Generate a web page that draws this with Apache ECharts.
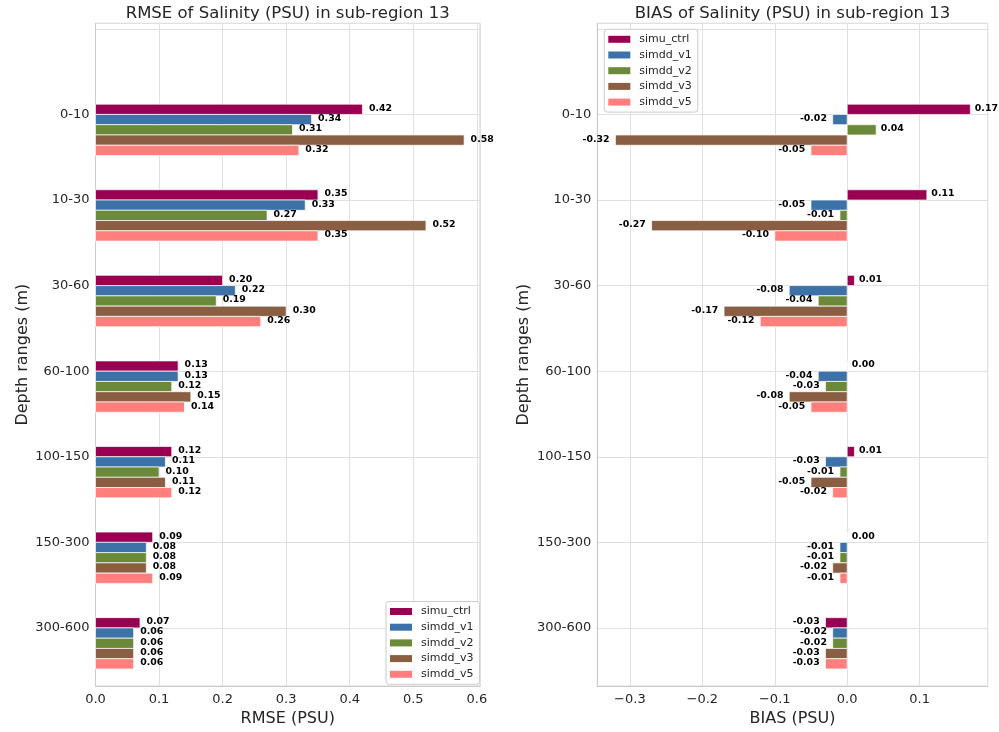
<!DOCTYPE html>
<html>
<head>
<meta charset="utf-8">
<script src="https://cdn.jsdelivr.net/npm/echarts@6/dist/echarts.min.js"></script>
<style>
  html, body { margin: 0; padding: 0; background: #fff; }
  #chart { width: 999px; height: 732px; }
</style>
</head>
<body>
<div id="chart"></div>
<script>
// Depth ranges (y categories, top to bottom)
const categories = ['0-10', '10-30', '30-60', '60-100', '100-150', '150-300', '300-600'];
const seriesNames = ['simu_ctrl', 'simdd_v1', 'simdd_v2', 'simdd_v3', 'simdd_v5'];

// RMSE of salinity (PSU) per depth range
const rmseSimuCtrl = [0.42, 0.35, 0.20, 0.13, 0.12, 0.09, 0.07];
const rmseSimddV1  = [0.34, 0.33, 0.22, 0.13, 0.11, 0.08, 0.06];
const rmseSimddV2  = [0.31, 0.27, 0.19, 0.12, 0.10, 0.08, 0.06];
const rmseSimddV3  = [0.58, 0.52, 0.30, 0.15, 0.11, 0.08, 0.06];
const rmseSimddV5  = [0.32, 0.35, 0.26, 0.14, 0.12, 0.09, 0.06];

// BIAS of salinity (PSU) per depth range
const biasSimuCtrl = [0.17, 0.11, 0.01, 0.00, 0.01, 0.00, -0.03];
const biasSimddV1  = [-0.02, -0.05, -0.08, -0.04, -0.03, -0.01, -0.02];
const biasSimddV2  = [0.04, -0.01, -0.04, -0.03, -0.01, -0.01, -0.02];
const biasSimddV3  = [-0.32, -0.27, -0.17, -0.08, -0.05, -0.02, -0.03];
const biasSimddV5  = [-0.05, -0.10, -0.12, -0.05, -0.02, -0.01, -0.03];

// x tick positions
const rmseTicks = [0, 0.1, 0.2, 0.3, 0.4, 0.5, 0.6];
const biasTicks = [-0.3, -0.2, -0.1, 0.0, 0.1];

const rmseSeries = [rmseSimuCtrl, rmseSimddV1, rmseSimddV2, rmseSimddV3, rmseSimddV5];
const biasSeries = [biasSimuCtrl, biasSimddV1, biasSimddV2, biasSimddV3, biasSimddV5];

const COLORS = ['#990052', '#3d72a9', '#6a8a3a', '#8a5e42', '#ff7f7d'];
const FONT = '"DejaVu Sans", "Liberation Sans", sans-serif';
const TEXT = '#262626';
const GRID_LINE = '#e0e0e0';
const FRAME = '#cccccc';
const BAR_STEP = 0.12;   // thickness of one bar in category units

function isTick(v, ticks) {
  return ticks.some(t => Math.abs(t - v) < 1e-6);
}
function fmtSigned(v) {
  const s = Math.abs(v).toFixed(1);
  return v < -1e-9 ? '\u2212' + s : s;
}
function catLabel(v) {
  const i = Math.round(v);
  if (Math.abs(v - i) < 1e-6 && i >= 0 && i < categories.length) return categories[i];
  return '';
}

// one horizontal bar per data item, with its value written beside the bar end
function barRenderer(slot, gapPos, gapNeg) {
  return function (params, api) {
    const v = api.value(0);
    const c = api.value(1);
    const a = api.coord([0, c + (slot - 1) * BAR_STEP]);
    const b = api.coord([v, c + slot * BAR_STEP]);
    const x = Math.min(a[0], b[0]);
    const w = Math.abs(b[0] - a[0]);
    const y = Math.min(a[1], b[1]);
    const h = Math.abs(b[1] - a[1]);
    const neg = v < 0;
    const tx = neg ? x - gapNeg : x + w + gapPos;
    return {
      type: 'group',
      children: [
        {
          type: 'rect',
          shape: { x: x, y: y, width: w, height: h },
          style: { fill: api.visual('color'), stroke: 'rgba(255,255,255,0.7)', lineWidth: 1 }
        },
        {
          type: 'text',
          x: tx,
          y: y + h / 2 - 1,
          style: {
            text: v.toFixed(2),
            fill: '#000',
            font: 'bold 9.4px ' + FONT,
            align: neg ? 'right' : 'left',
            verticalAlign: 'middle',
            textAlign: neg ? 'right' : 'left',
            textVerticalAlign: 'middle'
          }
        }
      ]
    };
  };
}

function makeSeries(valuesList, axisIndex, gapPos, gapNeg) {
  return valuesList.map((vals, k) => ({
    name: seriesNames[k],
    type: 'custom',
    xAxisIndex: axisIndex,
    yAxisIndex: axisIndex,
    color: COLORS[k],
    itemStyle: { color: COLORS[k] },
    encode: { x: 0, y: 1 },
    renderItem: barRenderer(k, gapPos, gapNeg),
    data: categories.map((c, i) => [vals[i], i]),
    silent: true,
    z: 3
  }));
}

function yAxisCfg(gridIndex) {
  return {
    type: 'value',
    gridIndex: gridIndex,
    inverse: true,
    min: -1.065,
    max: 6.68,
    splitNumber: 8,
    name: 'Depth ranges (m)',
    nameLocation: 'middle',
    nameRotate: 90,
    nameGap: 65,
    nameTextStyle: { fontSize: 16, color: TEXT, fontFamily: FONT },
    axisLine: { show: true, onZero: false, lineStyle: { color: FRAME, width: 1 } },
    axisTick: { show: false },
    axisLabel: { formatter: catLabel, fontSize: 13, color: TEXT, fontFamily: FONT, margin: 6 },
    splitLine: { show: true, lineStyle: { color: GRID_LINE, width: 1 } }
  };
}

function legendCfg(left, top) {
  return {
    data: seriesNames,
    orient: 'vertical',
    left: left,
    top: top,
    icon: 'rect',
    itemWidth: 22,
    itemHeight: 7,
    itemGap: 1.7,
    padding: [3, 6, 3, 4],
    backgroundColor: 'rgba(255,255,255,0.85)',
    borderColor: '#cccccc',
    borderWidth: 1,
    borderRadius: 3,
    selectedMode: false,
    textStyle: { fontSize: 11, color: TEXT, fontFamily: FONT, lineHeight: 14, padding: [0, 0, 0, 4] }
  };
}

const chart = echarts.init(document.getElementById('chart'), null, { renderer: 'canvas' });

chart.setOption({
  animation: false,
  backgroundColor: '#ffffff',
  graphic: [
    {
      type: 'text', x: 287.7, y: 13.5, silent: true,
      style: { text: 'RMSE of Salinity (PSU) in sub-region 13', font: '16.5px ' + FONT, fill: TEXT,
               align: 'center', verticalAlign: 'middle', textAlign: 'center', textVerticalAlign: 'middle' }
    },
    {
      type: 'text', x: 792.5, y: 13.5, silent: true,
      style: { text: 'BIAS of Salinity (PSU) in sub-region 13', font: '16.5px ' + FONT, fill: TEXT,
               align: 'center', verticalAlign: 'middle', textAlign: 'center', textVerticalAlign: 'middle' }
    }
  ],
  grid: [
    { left: 95.5, right: 519, top: 23.3, bottom: 44, show: true, borderColor: FRAME, borderWidth: 1, containLabel: false },
    { left: 597.3, right: 11.3, top: 23.3, bottom: 44, show: true, borderColor: FRAME, borderWidth: 1, containLabel: false }
  ],
  legend: [legendCfg(386, 601.5), legendCfg(604.3, 29.3)],
  xAxis: [
    {
      type: 'value',
      gridIndex: 0,
      min: 0,
      max: 0.605,
      interval: 0.1,
      name: 'RMSE (PSU)',
      nameLocation: 'middle',
      nameGap: 23,
      nameTextStyle: { fontSize: 16, color: TEXT, fontFamily: FONT },
      axisLine: { show: true, onZero: false, lineStyle: { color: FRAME, width: 1 } },
      axisTick: { show: false },
      axisLabel: {
        fontSize: 13, color: TEXT, fontFamily: FONT, margin: 7,
        formatter: v => (isTick(v, rmseTicks) ? fmtSigned(v) : '')
      },
      splitLine: { show: true, lineStyle: { color: GRID_LINE, width: 1 } }
    },
    {
      type: 'value',
      gridIndex: 1,
      min: -0.345,
      max: 0.194,
      splitNumber: 5,
      name: 'BIAS (PSU)',
      nameLocation: 'middle',
      nameGap: 23,
      nameTextStyle: { fontSize: 16, color: TEXT, fontFamily: FONT },
      axisLine: { show: true, onZero: false, lineStyle: { color: FRAME, width: 1 } },
      axisTick: { show: false },
      axisLabel: {
        fontSize: 13, color: TEXT, fontFamily: FONT, margin: 7,
        formatter: v => (isTick(v, biasTicks) ? fmtSigned(v) : '')
      },
      splitLine: { show: true, lineStyle: { color: GRID_LINE, width: 1 } }
    }
  ],
  yAxis: [yAxisCfg(0), yAxisCfg(1)],
  series: [].concat(
    makeSeries(rmseSeries, 0, 6.5, 5.5),
    makeSeries(biasSeries, 1, 4.5, 5.8)
  )
});
</script>
</body>
</html>
